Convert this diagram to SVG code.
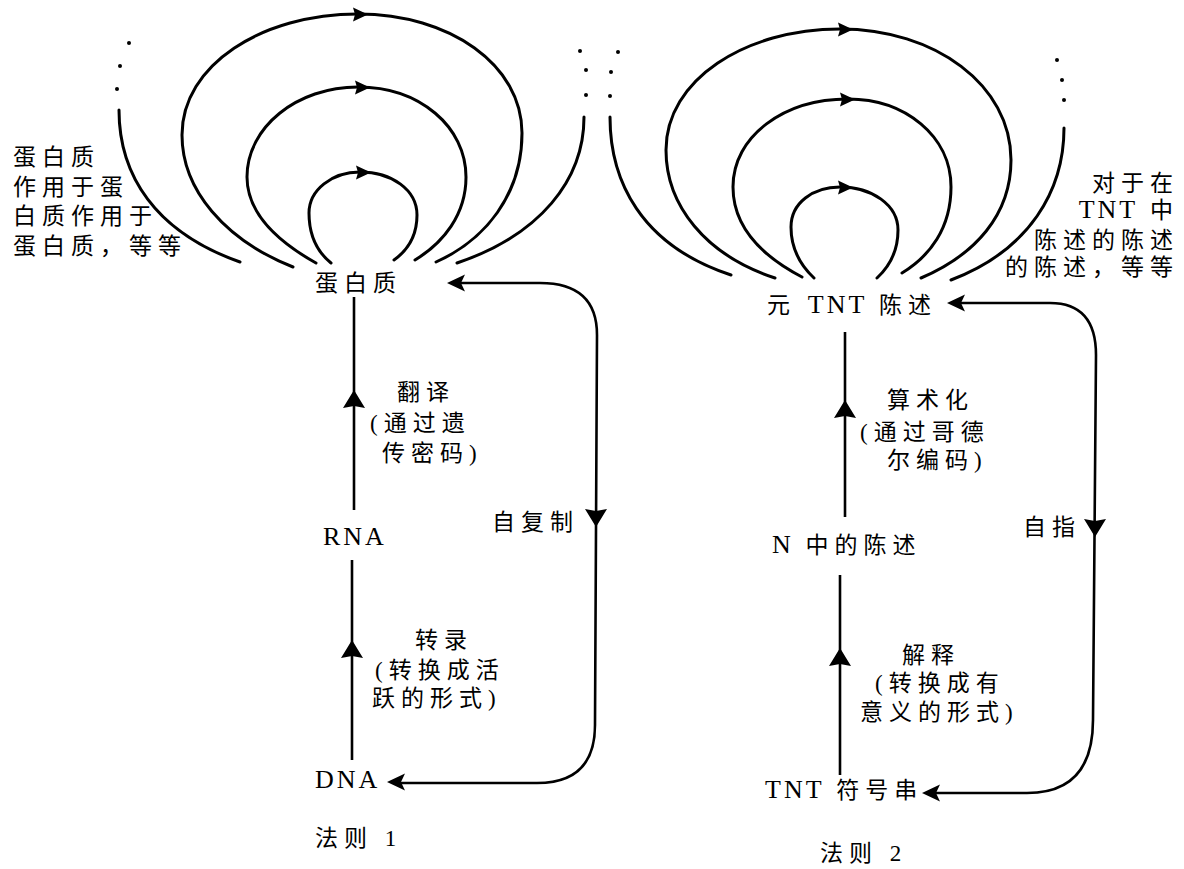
<svg xmlns="http://www.w3.org/2000/svg" width="1184" height="869" viewBox="0 0 1184 869">
<style>
text{font-family:"Liberation Serif","Noto Sans CJK SC",serif;font-size:23px;fill:#000;letter-spacing:6px}
.lat{font-size:26px;letter-spacing:3px}
.arc{fill:none;stroke:#000;stroke-width:3;stroke-linecap:round}
.ln{fill:none;stroke:#000;stroke-width:2.6}
.ah{fill:#000}
.dot{fill:#000}
</style>
<defs>
<path id="ah" d="M0,0 L-18,-8.5 L-14,0 L-18,8.5 Z"/>
<path id="ahv" d="M0,0 L-18,-11 L-16,0 L-18,11 Z"/>
<path id="ahs" d="M0,0 L-15,-7 L-13,0 L-15,7 Z"/>
</defs>
<rect width="1184" height="869" fill="#fff"/>

<g id="connectors">
  <!-- left: loops over 蛋白质 -->
  <path class="arc" d="M331,263 C315,250 309,232 309,213 C309,190 332,172 360,172 C392,172 417,190 417,215 C417,235 408,250 394,260"/>
  <path class="arc" d="M316,263 C275,240 247,212 247,177 C247,127 297,87 358,87 C420,87 466,127 466,177 C466,215 443,243 415,260"/>
  <path class="arc" d="M293,267 C225,240 182,190 182,135 C182,65 262,14 358,14 C450,14 522,65 522,133 C522,195 485,240 436,262"/>
  <path class="arc" d="M119,110 C119,175 155,232 240,262"/>
  <path class="arc" d="M584,117 C584,180 540,235 457,263"/>
  <use href="#ahs" class="ah" transform="translate(368,14.5)"/>
  <use href="#ahs" class="ah" transform="translate(370,87.5)"/>
  <use href="#ahs" class="ah" transform="translate(371,172.5)"/>
  <circle class="dot" cx="129" cy="43" r="2"/>
  <circle class="dot" cx="120" cy="66" r="2"/>
  <circle class="dot" cx="117" cy="89" r="2"/>
  <circle class="dot" cx="580" cy="51" r="2"/>
  <circle class="dot" cx="586" cy="70" r="2"/>
  <circle class="dot" cx="586" cy="95" r="2"/>

  <!-- left: vertical chain -->
  <path class="ln" d="M354,297 L354,510"/>
  <use href="#ahv" class="ah" transform="translate(354,390) rotate(-90)"/>
  <path class="ln" d="M352,560 L352,760"/>
  <use href="#ahv" class="ah" transform="translate(352,640) rotate(-90)"/>

  <!-- left: self-replication loop -->
  <path class="ln" d="M458,283 L540,283 Q597,283 597,335 L595,725 Q595,783 537,783 L400,783"/>
  <use href="#ah" class="ah" transform="translate(447,283) rotate(180)"/>
  <use href="#ahv" class="ah" transform="translate(596,527) rotate(90)"/>
  <use href="#ah" class="ah" transform="translate(387,782) rotate(180)"/>

  <!-- right: loops over 元TNT陈述 -->
  <path class="arc" d="M814,278 C797,262 791,245 791,227 C791,203 813,187 840,187 C872,187 898,205 898,230 C898,250 890,266 877,278"/>
  <path class="arc" d="M802,277 C760,255 733,225 733,187 C733,136 784,99 848,99 C905,99 951,136 951,187 C951,228 930,256 902,273"/>
  <path class="arc" d="M775,278 C705,255 666,205 666,150 C666,80 745,29 840,29 C935,29 1011,85 1011,160 C1011,215 975,255 921,278"/>
  <path class="arc" d="M610,117 C610,180 640,245 731,275"/>
  <path class="arc" d="M1064,128 C1064,190 1030,250 951,280"/>
  <use href="#ahs" class="ah" transform="translate(853,29.5)"/>
  <use href="#ahs" class="ah" transform="translate(855,99.5)"/>
  <use href="#ahs" class="ah" transform="translate(853,187.5)"/>
  <circle class="dot" cx="618" cy="52" r="2"/>
  <circle class="dot" cx="611" cy="72" r="2"/>
  <circle class="dot" cx="610" cy="96" r="2"/>
  <circle class="dot" cx="1057" cy="60" r="2"/>
  <circle class="dot" cx="1062" cy="80" r="2"/>
  <circle class="dot" cx="1064" cy="100" r="2"/>

  <!-- right: vertical chain -->
  <path class="ln" d="M845,332 L845,517"/>
  <use href="#ahv" class="ah" transform="translate(845,400) rotate(-90)"/>
  <path class="ln" d="M840,575 L840,775"/>
  <use href="#ahv" class="ah" transform="translate(840,648) rotate(-90)"/>

  <!-- right: self-reference loop -->
  <path class="ln" d="M960,303 L1050,303 Q1096,303 1096,355 L1093,720 Q1093,793 1027,793 L935,793"/>
  <use href="#ah" class="ah" transform="translate(947,303) rotate(180)"/>
  <use href="#ahv" class="ah" transform="translate(1095,537) rotate(90)"/>
  <use href="#ah" class="ah" transform="translate(922,793) rotate(180)"/>
</g>

<g id="n-protein"><text x="315" y="291">蛋白质</text></g>
<g id="n-protein-note">
  <text x="13" y="165">蛋白质</text>
  <text x="13" y="195">作用于蛋</text>
  <text x="13" y="224">白质作用于</text>
  <text x="13" y="254">蛋白质，等等</text>
</g>
<g id="n-translation">
  <text x="397" y="400">翻译</text>
  <text x="370" y="431">(通过遗</text>
  <text x="382" y="461">传密码)</text>
</g>
<g id="n-rna"><text class="lat" x="323" y="545">RNA</text></g>
<g id="n-transcription">
  <text x="415" y="648">转录</text>
  <text x="375" y="678">(转换成活</text>
  <text x="372" y="706">跃的形式)</text>
</g>
<g id="n-dna"><text class="lat" x="315" y="788">DNA</text></g>
<g id="n-selfrep"><text x="492" y="530">自复制</text></g>
<g id="n-law1"><text x="315" y="846">法则 1</text></g>

<g id="n-meta"><text x="767" y="313">元 <tspan class="lat">TNT</tspan> 陈述</text></g>
<g id="n-meta-note">
  <text x="1179" y="191" text-anchor="end">对于在</text>
  <text x="1179" y="218" text-anchor="end"><tspan class="lat">TNT</tspan> 中</text>
  <text x="1179" y="248" text-anchor="end">陈述的陈述</text>
  <text x="1179" y="275" text-anchor="end">的陈述，等等</text>
</g>
<g id="n-arith">
  <text x="887" y="408">算术化</text>
  <text x="860" y="440">(通过哥德</text>
  <text x="887" y="468">尔编码)</text>
</g>
<g id="n-nstmt"><text x="772" y="553"><tspan class="lat">N</tspan> 中的陈述</text></g>
<g id="n-interp">
  <text x="902" y="663">解释</text>
  <text x="875" y="691">(转换成有</text>
  <text x="860" y="720">意义的形式)</text>
</g>
<g id="n-tntstr"><text x="765" y="798"><tspan class="lat">TNT</tspan> 符号串</text></g>
<g id="n-selfref"><text x="1023" y="535">自指</text></g>
<g id="n-law2"><text x="820" y="861">法则 2</text></g>
</svg>
